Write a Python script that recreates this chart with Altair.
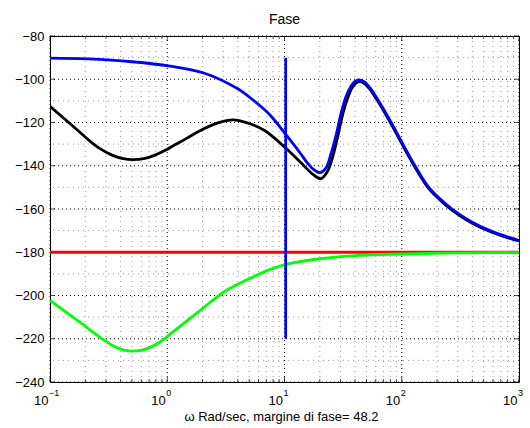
import altair as alt
import pandas as pd

# ---------------- data ----------------
blue_w = [0.1, 0.211, 0.5, 1.056, 2.02, 3.93, 5.39, 7.52, 10.24, 13.56, 15.56, 17.5,
          20.1, 22.6, 24.9, 27.5, 30.3, 33.5, 36.9, 39.9, 43.5, 48.6, 53.6, 61.5, 72.0,
          84.2, 96.6, 110.9, 129.7, 167.5, 212, 268, 382, 566, 760, 1000]
blue_v = [-90.2, -90.6, -91.9, -93.9, -97.0, -104.2, -109.6, -116.5, -125.5, -134.0,
          -138.5, -141.5, -143.2, -141.0, -134.5, -126.0, -116.0, -108.0, -103.2, -101.0,
          -100.3, -101.5, -104.0, -108.8, -115.0, -121.5, -127.5, -133.5, -140.0, -149.5,
          -155.3, -160.0, -165.5, -170.0, -172.5, -174.5]

black_w = [0.1, 0.173, 0.219, 0.267, 0.338, 0.42, 0.51, 0.646, 0.786, 1.0, 1.098, 1.5,
           1.902, 2.7, 3.64, 5.08, 6.82, 10.24, 13.56, 17.5, 20.36, 23.04, 25.42, 28.04,
           30.94, 34.12, 37.64, 40.7, 44.05, 48.6, 53.6, 61.5, 72.0, 84.2, 96.6, 110.9,
           129.7, 167.5, 212, 268, 382, 566, 760, 1000]
black_v = [-112.5, -123.7, -128.6, -132.1, -135.1, -136.7, -137.2, -136.6, -135.1,
           -132.4, -131.1, -127.0, -123.8, -120.2, -118.8, -120.6, -123.8, -131.8,
           -138.2, -144.0, -146.0, -143.0, -137.0, -128.0, -117.5, -109.5, -104.0,
           -101.8, -101.1, -102.2, -104.7, -109.5, -115.7, -122.2, -128.2, -134.2,
           -140.7, -150.1, -155.8, -160.5, -166.0, -170.4, -172.9, -174.8]

green_w = [0.1, 0.175, 0.294, 0.358, 0.42, 0.51, 0.646, 0.786, 0.957, 1.098, 2.0, 3.0,
           4.0, 5.0, 7.0, 10.24, 13.5, 20, 30, 50, 100, 314, 1000]
green_v = [-202.2, -211.9, -220.9, -223.7, -225.1, -225.7, -224.9, -222.9, -219.8,
           -217.2, -206.0, -198.6, -194.8, -192.3, -188.6, -185.6, -184.3, -183.0,
           -182.0, -181.3, -180.8, -180.3, -180.1]

red_w = [0.1, 1000]
red_v = [-180, -180]

cross_w = [10.24]
cross_top = [-90]
cross_bottom = [-220]

x_major = [0.1, 1, 10, 100, 1000]
x_exp = ["\u22121", "0", "1", "2", "3"]
x_minor = [k * 10.0 ** e for e in range(-1, 3) for k in range(2, 10)]
y_major = list(range(-240, -79, 20))
y_minor = list(range(-230, -80, 20))

title_text = "Fase"
xlabel_text = "\u03c9 Rad/sec, margine di fase= 48.2"

# ---------------- chart ----------------
W, H = 469, 346
FONT = "Liberation Sans"

X = alt.X("w:Q", scale=alt.Scale(type="log", domain=[0.1, 1000], nice=False), axis=None)
Y = alt.Y("v:Q", scale=alt.Scale(domain=[-240, -80], nice=False, zero=False),
          axis=alt.Axis(values=y_major, ticks=False, tickSize=0, domain=False, grid=False,
                        labelFont=FONT, labelFontSize=13, labelColor="black",
                        labelPadding=6, title=None))

minor_x = alt.Chart(pd.DataFrame({"w": x_minor})).mark_rule(
    color="#9a9a9a", strokeWidth=1, strokeDash=[1, 4]).encode(x=X)
minor_y = alt.Chart(pd.DataFrame({"v": y_minor})).mark_rule(
    color="#9a9a9a", strokeWidth=1, strokeDash=[1, 4]).encode(y=Y)
major_x = alt.Chart(pd.DataFrame({"w": x_major})).mark_rule(
    color="black", strokeWidth=1, strokeDash=[1, 3]).encode(x=X)
major_y = alt.Chart(pd.DataFrame({"v": y_major})).mark_rule(
    color="black", strokeWidth=1, strokeDash=[1, 3]).encode(y=Y)

# inner tick marks (MATLAB style)
tick_major_x = pd.DataFrame({"w": x_major})
tick_minor_x = pd.DataFrame({"w": x_minor})
tick_y = pd.DataFrame({"v": y_major})
tk = []
for ypix, size, df in [(H - 2.5, 5, tick_major_x), (2.5, 5, tick_major_x),
                       (H - 1.5, 3, tick_minor_x), (1.5, 3, tick_minor_x)]:
    tk.append(alt.Chart(df).mark_tick(color="black", thickness=1, size=size,
                                      orient="vertical").encode(x=X, y=alt.value(ypix)))
for xpix in [2.5, W - 2.5]:
    tk.append(alt.Chart(tick_y).mark_tick(color="black", thickness=1, size=5,
                                          orient="horizontal").encode(y=Y, x=alt.value(xpix)))

def curve(w, v, color, width=2.8):
    return alt.Chart(pd.DataFrame({"w": w, "v": v})).mark_line(
        color=color, strokeWidth=width, interpolate="catmull-rom", clip=True).encode(x=X, y=Y)

red = curve(red_w, red_v, "#ff0000")
green = curve(green_w, green_v, "#00ff00")
black = curve(black_w, black_v, "#000000")
blue = curve(blue_w, blue_v, "#0000ff")

vline = alt.Chart(pd.DataFrame({"w": cross_w, "v": cross_top, "v2": cross_bottom})).mark_rule(
    color="#0000ff", strokeWidth=2.7).encode(x=X, y=Y, y2="v2:Q")

lab_df = pd.DataFrame({"w": x_major, "base": ["10"] * len(x_major), "exp": x_exp})
lab_base = alt.Chart(lab_df).mark_text(
    font=FONT, fontSize=13, color="black", align="right", baseline="alphabetic",
    dx=-1.5, dy=0).encode(x=X, y=alt.value(H + 23), text="base:N")
lab_exp = alt.Chart(lab_df).mark_text(
    font=FONT, fontSize=9, color="black", align="left", baseline="alphabetic",
    dx=-1, dy=0).encode(x=X, y=alt.value(H + 14), text="exp:N")

title = alt.Chart(pd.DataFrame({"t": [title_text]})).mark_text(
    font=FONT, fontSize=14, color="black", align="center", baseline="alphabetic"
).encode(x=alt.value(W / 2), y=alt.value(-12), text="t:N")
xlabel = alt.Chart(pd.DataFrame({"t": [xlabel_text]})).mark_text(
    font=FONT, fontSize=13, color="black", align="center", baseline="alphabetic"
).encode(x=alt.value(W / 2 - 3), y=alt.value(H + 39), text="t:N")

chart = alt.layer(
    minor_x, minor_y, major_x, major_y, *tk,
    red, green, black, blue, vline,
    lab_base, lab_exp, title, xlabel
).properties(
    width=W, height=H,
    autosize=alt.AutoSizeParams(type="none"),
    padding={"left": 50, "top": 36, "right": 11, "bottom": 46},
    background="white",
).configure_view(stroke="black", strokeWidth=1)

chart.save("out.html", embed_options={"renderer": "svg", "actions": False})
